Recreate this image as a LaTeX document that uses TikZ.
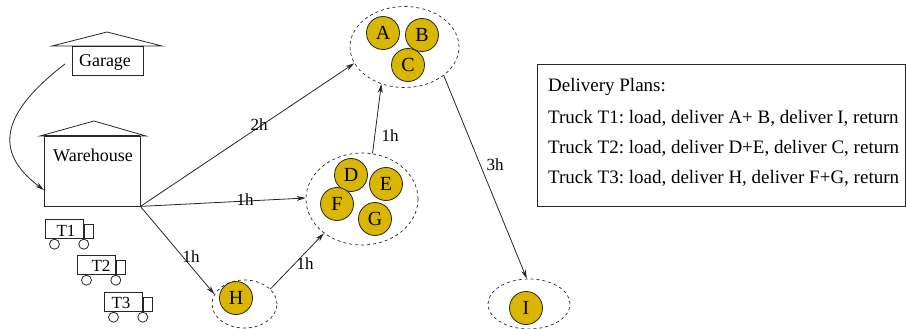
\documentclass[tikz,border=0pt]{standalone}
\usepackage{fontspec}
\setmainfont{Liberation Serif}
\usetikzlibrary{arrows.meta,shapes.geometric}
\definecolor{parcelgold}{HTML}{D9B600}
\tikzset{
  line/.style={draw=black!85,line width=0.8pt},
  house/.style={line,rectangle,inner sep=0pt},
  wheel/.style={line,circle,minimum size=10pt,inner sep=0pt,anchor=north},
  parcel/.style={line,circle,fill=parcelgold,minimum size=33pt,inner sep=0pt,font=\fontsize{20}{22}\selectfont},
  zone/.style={draw=black!85,ellipse,dashed,line width=0.7pt,inner sep=0pt},
  route/.style={line,-{Stealth[length=9pt,width=5pt]}},
  hours/.style={inner sep=0pt,font=\fontsize{17}{20}\selectfont},
  plan/.style={anchor=west,inner sep=0pt,font=\fontsize{19}{22}\selectfont\frenchspacing}
}
\begin{document}
\begin{tikzpicture}[x=1pt,y=-1pt]
\useasboundingbox (0,0) rectangle (906,329);
% buildings
\node[house,minimum width=71pt,minimum height=29pt] (garage) at (107.5,60.5) {};
\node[inner sep=0pt,font=\fontsize{18}{20}\selectfont] (garagetxt) at (105,62) {Garage};
\draw[line] (52,46) -- (107,32) -- (162,46) -- cycle;
\node[house,minimum width=96pt,minimum height=70pt] (wh) at (92,171) {};
\node[inner sep=0pt,font=\fontsize{18}{20}\selectfont] (whtxt) at (93,155) {Warehouse};
\draw[line] (40,136) -- (94,121) -- (146,136) -- cycle;
\draw[line,line width=1.2pt] (wh.north west) -- (wh.north east);
\coordinate (gout) at (65,64);
\coordinate (win) at (44,190);
\draw[route] (gout) .. controls (5,110) and (-10,150) .. (win);
% trucks
\foreach \n/\x/\y/\lx/\ly in {1/45/219/66/231, 2/77/255/101/266, 3/104/292/121/303}{
  \node[house,minimum width=38pt,minimum height=19pt,anchor=north west] (box\n) at (\x,\y) {};
  \node[house,minimum width=9.5pt,minimum height=14.5pt,anchor=south west] (cab\n) at (box\n.south east) {};
  \node[wheel,xshift=9.5pt] (wa\n) at (box\n.south west) {};
  \node[wheel] (wb\n) at (box\n.south east) {};
  \node[hours] (t\n) at (\lx,\ly) {T\n};
}
% zones
\node[zone,minimum width=109pt,minimum height=81pt] (abc) at (404.5,47) {};
\node[zone,minimum width=112pt,minimum height=92pt] (defg) at (362,199) {};
\node[zone,minimum width=65pt,minimum height=48pt] (zh) at (244.5,304) {};
\node[zone,minimum width=82pt,minimum height=50pt] (zi) at (529,304) {};
% parcels
\foreach \n/\x/\y in {A/383/33, B/422/35, C/408/65, D/351/175, E/386/184, F/337/204, G/375/219, H/236/298, I/526/308}
  \node[parcel] (\n) at (\x,\y) {\n};
% routes
\draw[route] (wh.south east) -- (abc.198);
\draw[route] (wh.south east) -- (defg.179);
\draw[route] (wh.south east) -- (zh.162);
\draw[route] (zh.30) -- (defg.222);
\draw[route] (defg.77) -- (abc.238);
\draw[route] (abc.-36) -- (zi.95);
\node[hours] (h2) at (259,125) {2h};
\node[hours] (h1a) at (245,200) {1h};
\node[hours] (h1b) at (191,257) {1h};
\node[hours] (h1c) at (305,264) {1h};
\node[hours] (h1d) at (390,136) {1h};
\node[hours] (h3) at (495,165) {3h};
% plans
\node[line,rectangle,inner sep=0pt,minimum width=368pt,minimum height=141pt,anchor=north west] (plans) at (537,64.5) {};
\node[plan] (p0) at (548,87) {Delivery Plans:};
\node[plan] (p1) at (548,118) {Truck T1: load, deliver A+ B, deliver I, return};
\node[plan] (p2) at (548,148) {Truck T2: load, deliver D+E, deliver C, return};
\node[plan] (p3) at (548,178) {Truck T3: load, deliver H, deliver F+G, return};
\end{tikzpicture}
\end{document}
